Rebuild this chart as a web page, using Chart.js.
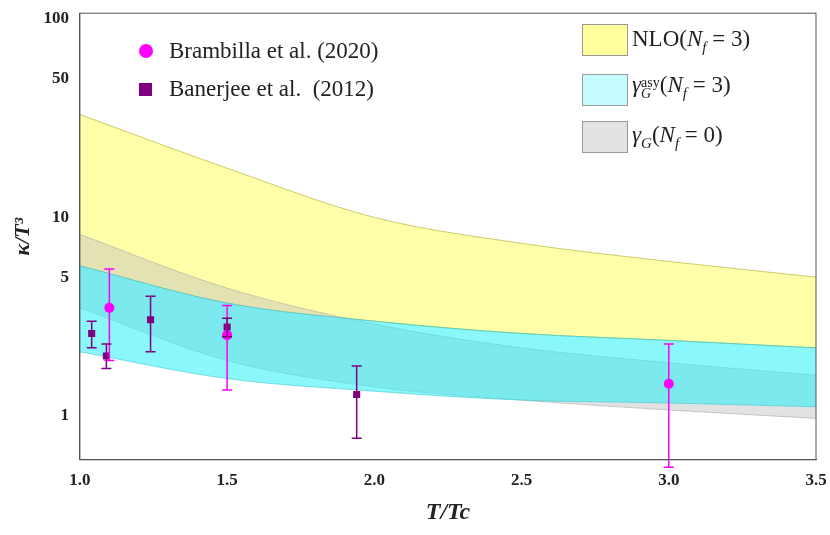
<!DOCTYPE html>
<html><head>
<script src="https://cdn.jsdelivr.net/npm/chart.js@4"></script>
<style>
body{margin:0;background:#fff;font-family:"Liberation Serif",serif}
#wrap{position:relative;width:830px;height:535px}
.lg{position:absolute;font-size:23px;color:#222;white-space:nowrap}
.sw{position:absolute;width:44px;height:30px;border:1.5px solid #999}
.ss{display:inline-block;vertical-align:-6px;line-height:11px;font-size:14px;text-align:left}
</style></head><body>
<div id="wrap"><canvas id="c" width="830" height="535"></canvas>
<div class="lg" style="left:139px;top:38px"><span style="display:inline-block;width:14px;height:14px;border-radius:50%;background:#f0f;margin-right:16px"></span>Brambilla et al. (2020)</div>
<div class="lg" style="left:139px;top:76px"><span style="display:inline-block;width:13px;height:13px;background:#800080;margin-right:17px"></span>Banerjee et al.&nbsp; (2012)</div>
<div class="sw" style="left:582px;top:24px;background:#ffff9c"></div><div class="lg" style="left:632px;top:26px">NLO(<i>N<sub style="font-size:15px">f</sub></i> = 3)</div>
<div class="sw" style="left:582px;top:74px;background:#c4fcff"></div><div class="lg" style="left:632px;top:72px"><i>γ</i><span class="ss">asy<br><i>G</i></span>(<i>N<sub style="font-size:15px">f</sub></i> = 3)</div>
<div class="sw" style="left:582px;top:121px;background:#e2e2e2"></div><div class="lg" style="left:632px;top:122px"><i>γ<sub style="font-size:15px">G</sub></i>(<i>N<sub style="font-size:15px">f</sub></i> = 0)</div>
</div>
<script>
var bandX = [1.0, 1.5, 2.0, 2.5, 3.0, 3.5];
var nloUpper = [33, 17.7, 10, 7.4, 6.0, 5.0];
var nloLower = [5.7, 3.7, 3.0, 2.6, 2.4, 2.2];
var asyUpper = [5.7, 3.7, 3.0, 2.6, 2.4, 2.2];
var asyLower = [2.1, 1.54, 1.33, 1.2, 1.16, 1.11];
var nf0Upper = [8.2, 4.4, 2.9, 2.2, 1.85, 1.6];
var nf0Lower = [3.5, 1.9, 1.4, 1.2, 1.07, 0.97];
var bramX = [1.1, 1.5, 3.0];
var bramY = [3.5, 2.55, 1.45];
var bramLo = [1.9, 1.35, 0.55];
var bramHi = [5.5, 3.6, 2.3];
var banX = [1.04, 1.09, 1.24, 1.5, 1.94];
var banY = [2.6, 2.0, 3.05, 2.8, 1.28];
var banLo = [2.2, 1.73, 2.1, 2.5, 0.77];
var banHi = [3.0, 2.3, 4.0, 3.1, 1.78];
var yTicks = [1, 5, 10, 50, 100];

function pts(xs, ys){ return xs.map(function(x,i){ return {x:x, y:ys[i]}; }); }
function band(lo, hi, fillC, lineC, ord){
  return [
    {type:'line', order:ord, data:pts(bandX, lo), borderColor:lineC, borderWidth:1, pointRadius:0, cubicInterpolationMode:'monotone', fill:false},
    {type:'line', order:ord, data:pts(bandX, hi), borderColor:lineC, borderWidth:1, pointRadius:0, cubicInterpolationMode:'monotone', fill:'-1', backgroundColor:fillC}
  ];
}
var errPlugin = {
  id:'err',
  afterDatasetsDraw:function(chart){
    var ctx = chart.ctx, xs = chart.scales.x, ys = chart.scales.y, a = chart.chartArea;
    function draw(X, lo, hi, col){
      ctx.save(); ctx.strokeStyle = col; ctx.lineWidth = 1.5;
      X.forEach(function(x,i){
        var px = xs.getPixelForValue(x), p = ys.getPixelForValue(lo[i]), q = ys.getPixelForValue(hi[i]);
        ctx.beginPath(); ctx.moveTo(px,p); ctx.lineTo(px,q);
        ctx.moveTo(px-5,p); ctx.lineTo(px+5,p); ctx.moveTo(px-5,q); ctx.lineTo(px+5,q); ctx.stroke();
      });
      ctx.restore();
    }
    draw(bramX, bramLo, bramHi, '#f0f');
    draw(banX, banLo, banHi, '#800080');
    ctx.save(); ctx.strokeStyle = '#555'; ctx.lineWidth = 1;
    ctx.strokeRect(a.left, a.top, a.right - a.left, a.bottom - a.top);
    ctx.restore();
  }
};
var ds = [].concat(
  band(nloLower, nloUpper, 'rgba(255,255,140,0.75)', 'rgba(190,190,80,0.8)', 5),
  band(nf0Lower, nf0Upper, 'rgba(190,190,190,0.45)', 'rgba(170,170,170,0.6)', 4),
  band(asyLower, asyUpper, 'rgba(40,240,250,0.55)', 'rgba(60,200,210,0.6)', 3)
);
ds.push({type:'scatter', order:1, data:pts(bramX, bramY), backgroundColor:'#f0f', pointRadius:5, borderWidth:0});
ds.push({type:'scatter', order:0, data:pts(banX, banY), backgroundColor:'#800080', pointStyle:'rect', pointRadius:5, borderWidth:0});

new Chart(document.getElementById('c'), {
  type:'line',
  data:{datasets:ds},
  plugins:[errPlugin],
  options:{
    responsive:false, animation:false,
    layout:{padding:{top:10,right:14,left:6,bottom:4}},
    plugins:{legend:{display:false}, tooltip:{enabled:false}},
    scales:{
      x:{type:'linear', min:1, max:3.5,
        ticks:{stepSize:0.5, callback:function(v){return v.toFixed(1);}, font:{family:'Liberation Serif', size:17, weight:'bold'}, color:'#222'},
        grid:{display:false}, border:{color:'#555'},
        title:{display:true, text:'T/Tc', font:{family:'Liberation Serif', size:24, style:'italic', weight:'bold'}, color:'#222'}},
      y:{type:'logarithmic', min:0.6, max:107,
        afterBuildTicks:function(s){ s.ticks = yTicks.map(function(v){return {value:v};}); },
        ticks:{callback:function(v){return v;}, font:{family:'Liberation Serif', size:17, weight:'bold'}, color:'#222'},
        grid:{display:false}, border:{color:'#555'},
        title:{display:true, text:'κ/T³', font:{family:'Liberation Serif', size:22, style:'italic', weight:'bold'}, color:'#222'}}
    }
  }
});
</script></body></html>
